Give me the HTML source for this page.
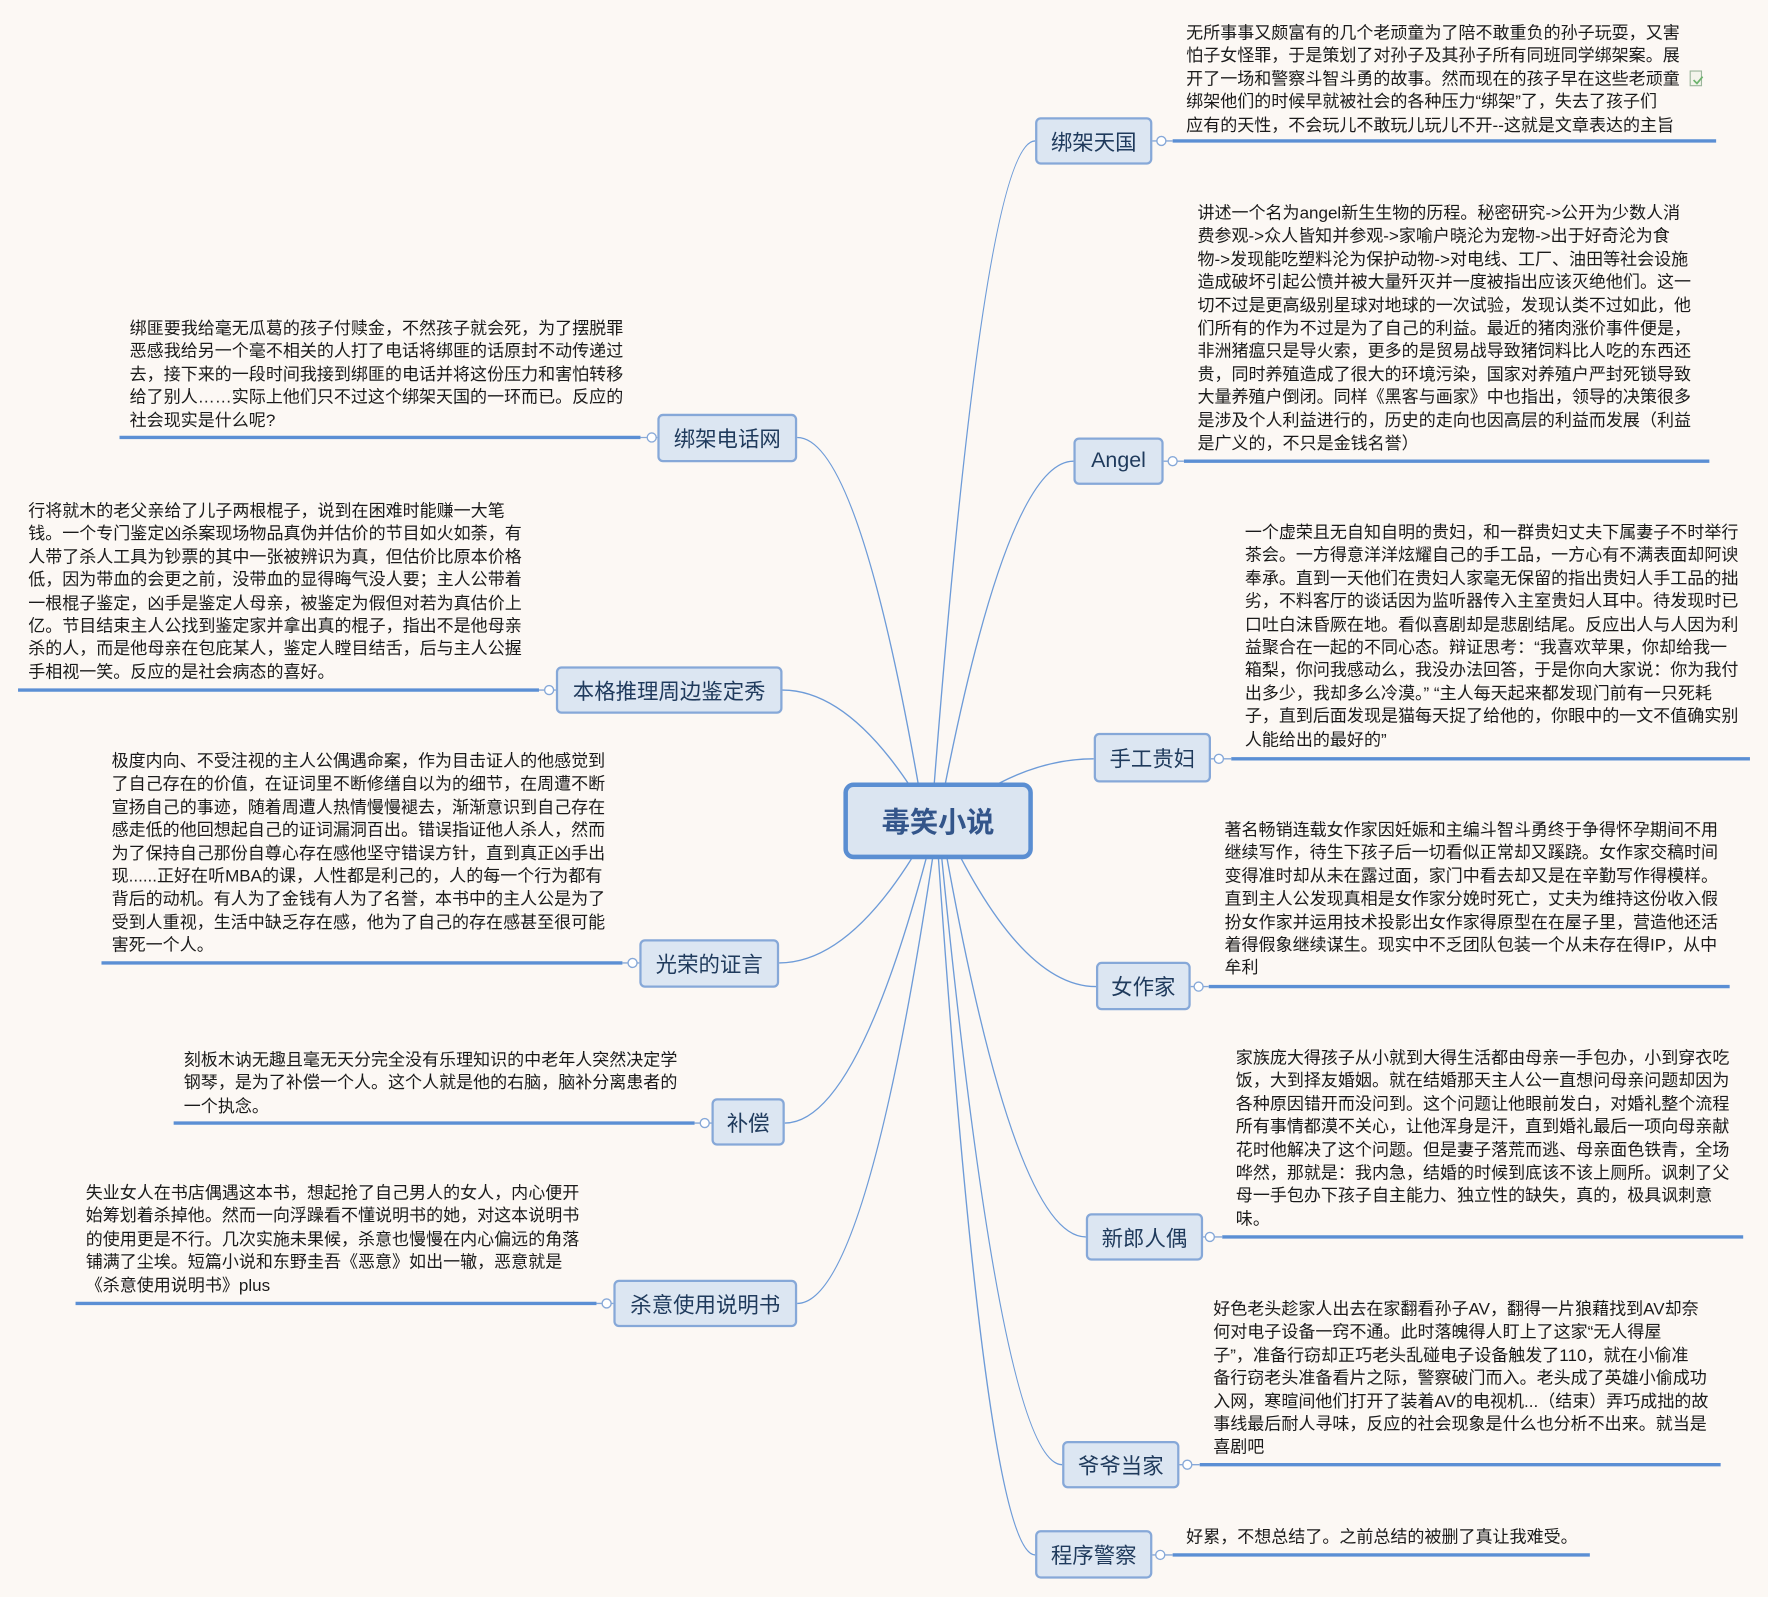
<!DOCTYPE html>
<html><head><meta charset="utf-8">
<style>
html,body{margin:0;padding:0;}
body{width:1768px;height:1596px;overflow:hidden;background:#fcf8f4;font-family:"Liberation Sans","Noto Sans CJK SC",sans-serif;}
#w{position:absolute;left:0;top:0;width:1568px;height:1416px;transform:scale(1.12755);transform-origin:0 0;}
.b{position:absolute;box-sizing:border-box;border:2px solid #86a8d8;background:#dce6f2;border-radius:5px;color:#1f3a5c;font-size:19px;display:flex;align-items:center;justify-content:center;white-space:nowrap;}
.t{position:absolute;font-size:15.1px;line-height:20.4px;color:#1a1a1a;white-space:pre;}
#c{position:absolute;left:748px;top:694px;width:168px;height:68px;box-sizing:border-box;border:4px solid #5a8ed2;border-radius:9px;background:#dbe5f1;color:#33558a;font-weight:bold;font-size:25px;display:flex;align-items:center;justify-content:center;}
</style></head><body>
<div id="w">
<svg width="1568" height="1416" style="position:absolute;left:0;top:0">
<g fill="none" stroke="#6d9bd8" stroke-width="1.2">
<path d="M826 728 Q872 125 918 125"/>
<path d="M832 728 Q892 409 952 409"/>
<path d="M836 728 Q903 673 970 673"/>
<path d="M836 728 Q904 875 972 875"/>
<path d="M834 728 Q898 1097 963 1097"/>
<path d="M832 728 Q887 1299 942 1299"/>
<path d="M830 728 Q874 1379 918 1379"/>
<path d="M820 728 Q763 388 707 388"/>
<path d="M826 728 Q760 612 694 612"/>
<path d="M828 728 Q760 854 691 854"/>
<path d="M830 728 Q763 996 696 996"/>
<path d="M832 728 Q770 1156 707 1156"/>
</g>
<g stroke="#5b8fd4" stroke-width="3">
<line x1="1040" y1="125" x2="1522" y2="125"/>
<line x1="1050" y1="409" x2="1516" y2="409"/>
<line x1="1092" y1="673" x2="1552" y2="673"/>
<line x1="1072" y1="875" x2="1534" y2="875"/>
<line x1="1084" y1="1097" x2="1546" y2="1097"/>
<line x1="1064" y1="1299" x2="1526" y2="1299"/>
<line x1="1040" y1="1379" x2="1410" y2="1379"/>
<line x1="106" y1="388" x2="568" y2="388"/>
<line x1="16" y1="612" x2="478" y2="612"/>
<line x1="90" y1="854" x2="552" y2="854"/>
<line x1="154" y1="996" x2="616" y2="996"/>
<line x1="67" y1="1156" x2="529" y2="1156"/>
</g>
<g fill="#fff" stroke="#86a8d8" stroke-width="1.2">
<line x1="1022" y1="125" x2="1040" y2="125"/><circle cx="1030" cy="125" r="4"/>
<line x1="1032" y1="409" x2="1050" y2="409"/><circle cx="1040" cy="409" r="4"/>
<line x1="1074" y1="673" x2="1092" y2="673"/><circle cx="1081" cy="673" r="4"/>
<line x1="1056" y1="875" x2="1072" y2="875"/><circle cx="1063" cy="875" r="4"/>
<line x1="1067" y1="1097" x2="1084" y2="1097"/><circle cx="1073" cy="1097" r="4"/>
<line x1="1046" y1="1299" x2="1064" y2="1299"/><circle cx="1053" cy="1299" r="4"/>
<line x1="1022" y1="1379" x2="1040" y2="1379"/><circle cx="1029" cy="1379" r="4"/>
<line x1="568" y1="388" x2="583" y2="388"/><circle cx="578" cy="388" r="4"/>
<line x1="478" y1="612" x2="493" y2="612"/><circle cx="487" cy="612" r="4"/>
<line x1="552" y1="854" x2="567" y2="854"/><circle cx="561" cy="854" r="4"/>
<line x1="616" y1="996" x2="631" y2="996"/><circle cx="625" cy="996" r="4"/>
<line x1="529" y1="1156" x2="544" y2="1156"/><circle cx="538" cy="1156" r="4"/>
</g>
<rect x="1499" y="63" width="10" height="13" fill="#f4f4ec" stroke="#9bb59b"/>
<path d="M1502 71 l3 3 l5 -6" stroke="#6cb36c" stroke-width="1.5" fill="none"/>
</svg>

<div id="c">毒笑小说</div>
<div class="b" style="left:918px;top:104px;width:104px;height:42px">绑架天国</div>
<div class="b" style="left:952px;top:388px;width:80px;height:42px">Angel</div>
<div class="b" style="left:970px;top:650px;width:104px;height:44px">手工贵妇</div>
<div class="b" style="left:972px;top:853px;width:84px;height:43px">女作家</div>
<div class="b" style="left:963px;top:1076px;width:104px;height:42px">新郎人偶</div>
<div class="b" style="left:942px;top:1278px;width:104px;height:42px">爷爷当家</div>
<div class="b" style="left:918px;top:1357px;width:104px;height:43px">程序警察</div>
<div class="b" style="left:583px;top:367px;width:124px;height:43px">绑架电话网</div>
<div class="b" style="left:493px;top:591px;width:201px;height:42px">本格推理周边鉴定秀</div>
<div class="b" style="left:567px;top:833px;width:124px;height:43px">光荣的证言</div>
<div class="b" style="left:631px;top:974px;width:65px;height:42px">补偿</div>
<div class="b" style="left:544px;top:1135px;width:163px;height:42px">杀意使用说明书</div>

<div class="t" style="left:1052px;top:20px">无所事事又颇富有的几个老顽童为了陪不敢重负的孙子玩耍，又害
怕子女怪罪，于是策划了对孙子及其孙子所有同班同学绑架案。展
开了一场和警察斗智斗勇的故事。然而现在的孩子早在这些老顽童
绑架他们的时候早就被社会的各种压力“绑架”了，失去了孩子们
应有的天性，不会玩儿不敢玩儿玩儿不开--这就是文章表达的主旨</div>

<div class="t" style="left:1062px;top:180px">讲述一个名为angel新生生物的历程。秘密研究->公开为少数人消
费参观->众人皆知并参观->家喻户晓沦为宠物->出于好奇沦为食
物->发现能吃塑料沦为保护动物->对电线、工厂、油田等社会设施
造成破坏引起公愤并被大量歼灭并一度被指出应该灭绝他们。这一
切不过是更高级别星球对地球的一次试验，发现认类不过如此，他
们所有的作为不过是为了自己的利益。最近的猪肉涨价事件便是，
非洲猪瘟只是导火索，更多的是贸易战导致猪饲料比人吃的东西还
贵，同时养殖造成了很大的环境污染，国家对养殖户严封死锁导致
大量养殖户倒闭。同样《黑客与画家》中也指出，领导的决策很多
是涉及个人利益进行的，历史的走向也因高层的利益而发展（利益
是广义的，不只是金钱名誉）</div>

<div class="t" style="left:1104px;top:463px">一个虚荣且无自知自明的贵妇，和一群贵妇丈夫下属妻子不时举行
茶会。一方得意洋洋炫耀自己的手工品，一方心有不满表面却阿谀
奉承。直到一天他们在贵妇人家毫无保留的指出贵妇人手工品的拙
劣，不料客厅的谈话因为监听器传入主室贵妇人耳中。待发现时已
口吐白沫昏厥在地。看似喜剧却是悲剧结尾。反应出人与人因为利
益聚合在一起的不同心态。辩证思考：“我喜欢苹果，你却给我一
箱梨，你问我感动么，我没办法回答，于是你向大家说：你为我付
出多少，我却多么冷漠。” “主人每天起来都发现门前有一只死耗
子，直到后面发现是猫每天捉了给他的，你眼中的一文不值确实别
人能给出的最好的”</div>

<div class="t" style="left:1086px;top:727px">著名畅销连载女作家因妊娠和主编斗智斗勇终于争得怀孕期间不用
继续写作，待生下孩子后一切看似正常却又蹊跷。女作家交稿时间
变得准时却从未在露过面，家门中看去却又是在辛勤写作得模样。
直到主人公发现真相是女作家分娩时死亡，丈夫为维持这份收入假
扮女作家并运用技术投影出女作家得原型在在屋子里，营造他还活
着得假象继续谋生。现实中不乏团队包装一个从未存在得IP，从中
牟利</div>

<div class="t" style="left:1096px;top:929px">家族庞大得孩子从小就到大得生活都由母亲一手包办，小到穿衣吃
饭，大到择友婚姻。就在结婚那天主人公一直想问母亲问题却因为
各种原因错开而没问到。这个问题让他眼前发白，对婚礼整个流程
所有事情都漠不关心，让他浑身是汗，直到婚礼最后一项向母亲献
花时他解决了这个问题。但是妻子落荒而逃、母亲面色铁青，全场
哗然，那就是：我内急，结婚的时候到底该不该上厕所。讽刺了父
母一手包办下孩子自主能力、独立性的缺失，真的，极具讽刺意
味。</div>

<div class="t" style="left:1076px;top:1152px">好色老头趁家人出去在家翻看孙子AV，翻得一片狼藉找到AV却奈
何对电子设备一窍不通。此时落魄得人盯上了这家“无人得屋
子”，准备行窃却正巧老头乱碰电子设备触发了110，就在小偷准
备行窃老头准备看片之际，警察破门而入。老头成了英雄小偷成功
入网，寒暄间他们打开了装着AV的电视机...（结束）弄巧成拙的故
事线最后耐人寻味，反应的社会现象是什么也分析不出来。就当是
喜剧吧</div>

<div class="t" style="left:1052px;top:1354px">好累，不想总结了。之前总结的被删了真让我难受。</div>

<div class="t" style="left:115px;top:282px">绑匪要我给毫无瓜葛的孩子付赎金，不然孩子就会死，为了摆脱罪
恶感我给另一个毫不相关的人打了电话将绑匪的话原封不动传递过
去，接下来的一段时间我接到绑匪的电话并将这份压力和害怕转移
给了别人……实际上他们只不过这个绑架天国的一环而已。反应的
社会现实是什么呢?</div>

<div class="t" style="left:25px;top:444px">行将就木的老父亲给了儿子两根棍子，说到在困难时能赚一大笔
钱。一个专门鉴定凶杀案现场物品真伪并估价的节目如火如荼，有
人带了杀人工具为钞票的其中一张被辨识为真，但估价比原本价格
低，因为带血的会更之前，没带血的显得晦气没人要；主人公带着
一根棍子鉴定，凶手是鉴定人母亲，被鉴定为假但对若为真估价上
亿。节目结束主人公找到鉴定家并拿出真的棍子，指出不是他母亲
杀的人，而是他母亲在包庇某人，鉴定人瞠目结舌，后与主人公握
手相视一笑。反应的是社会病态的喜好。</div>

<div class="t" style="left:99px;top:666px">极度内向、不受注视的主人公偶遇命案，作为目击证人的他感觉到
了自己存在的价值，在证词里不断修缮自以为的细节，在周遭不断
宣扬自己的事迹，随着周遭人热情慢慢褪去，渐渐意识到自己存在
感走低的他回想起自己的证词漏洞百出。错误指证他人杀人，然而
为了保持自己那份自尊心存在感他坚守错误方针，直到真正凶手出
现......正好在听MBA的课，人性都是利己的，人的每一个行为都有
背后的动机。有人为了金钱有人为了名誉，本书中的主人公是为了
受到人重视，生活中缺乏存在感，他为了自己的存在感甚至很可能
害死一个人。</div>

<div class="t" style="left:163px;top:931px">刻板木讷无趣且毫无天分完全没有乐理知识的中老年人突然决定学
钢琴，是为了补偿一个人。这个人就是他的右脑，脑补分离患者的
一个执念。</div>

<div class="t" style="left:76px;top:1049px">失业女人在书店偶遇这本书，想起抢了自己男人的女人，内心便开
始筹划着杀掉他。然而一向浮躁看不懂说明书的她，对这本说明书
的使用更是不行。几次实施未果候，杀意也慢慢在内心偏远的角落
铺满了尘埃。短篇小说和东野圭吾《恶意》如出一辙，恶意就是
《杀意使用说明书》plus</div>
</div>
</body></html>
